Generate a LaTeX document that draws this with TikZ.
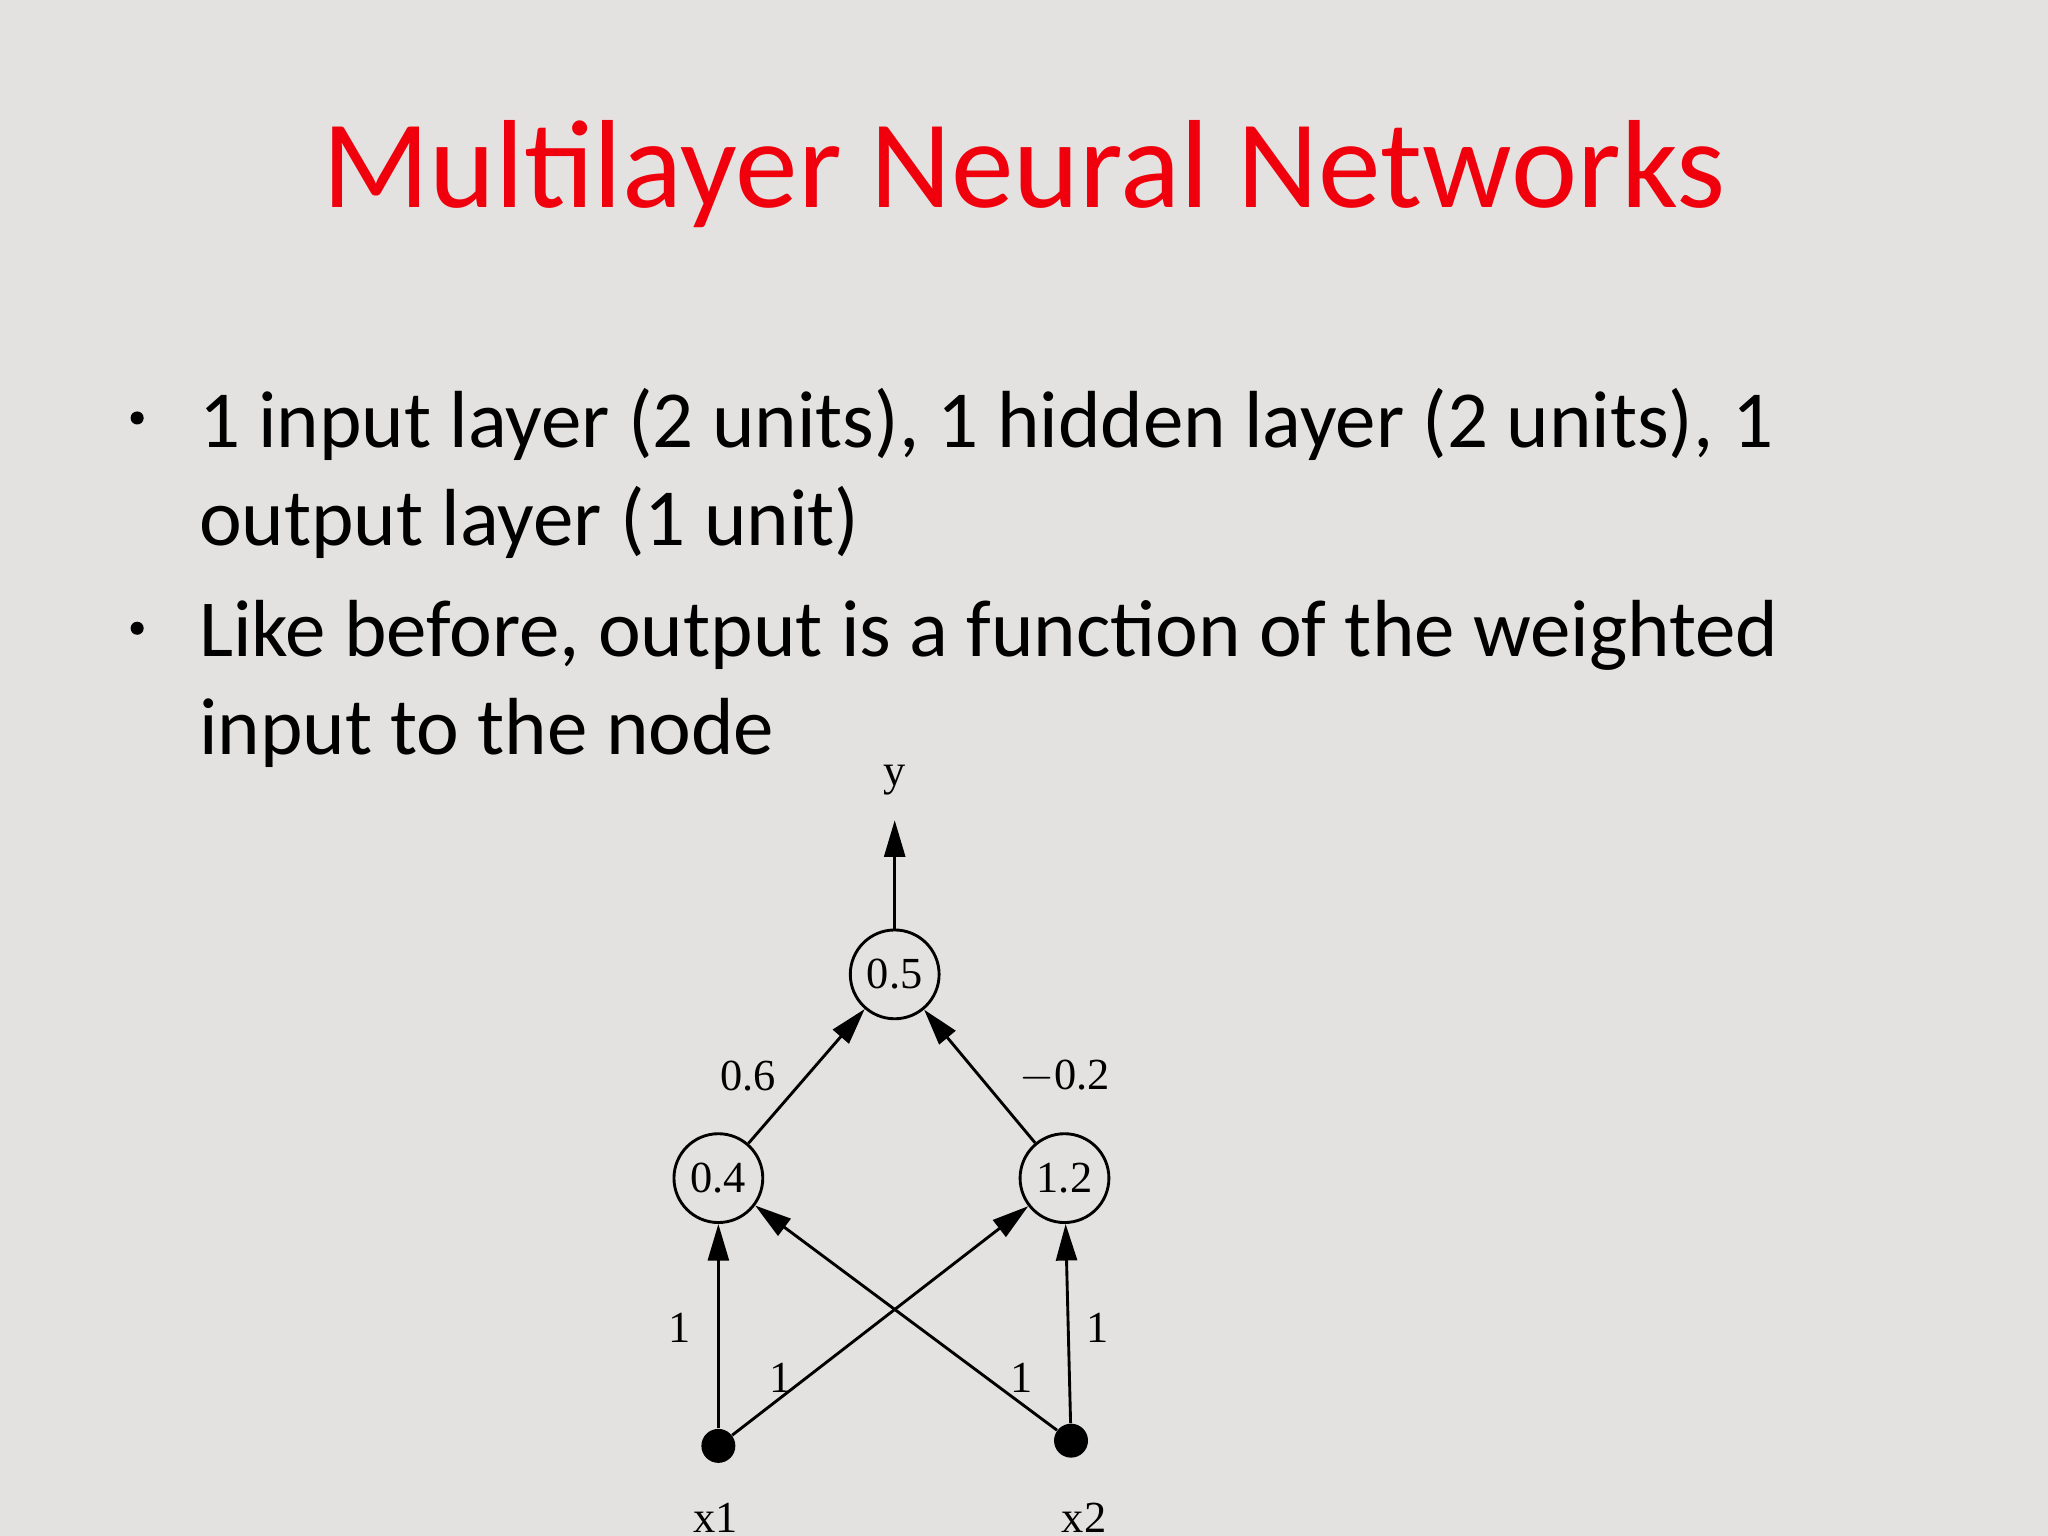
\documentclass[tikz,border=0pt]{standalone}
\usepackage{fontspec}
\setmainfont{Carlito}
\newfontfamily\diagfont{Liberation Serif}
\usetikzlibrary{arrows.meta}
\definecolor{bg}{HTML}{E4E2E0}
\definecolor{titlered}{HTML}{F0000C}
\begin{document}
\begin{tikzpicture}[x=0.5pt,y=-0.5pt,
  unit/.style={circle,draw,line width=1.1pt,minimum size=34pt,inner sep=0pt,font=\diagfont\fontsize{17}{17}\selectfont},
  dot/.style={circle,fill=black,minimum size=13pt,inner sep=0pt},
  lbl/.style={font=\diagfont\fontsize{17}{17}\selectfont,inner sep=0pt},
  conn/.style={line width=1.1pt,-{Triangle[length=14pt,width=8pt]}},
  body/.style={font=\fontsize{31}{37}\selectfont,anchor=base west,inner sep=0pt},
  bul/.style={circle,fill=black,minimum size=5pt,inner sep=0pt}]
\fill[bg] (0,0) rectangle (1568,1176);
\useasboundingbox (0,0) rectangle (1568,1176);
\node[text=titlered,font=\fontsize{48}{58}\selectfont,inner sep=0pt] (title) at (784,133) {Multilayer Neural Networks};
\node[bul] (b1) at (105,320) {};
\node[body] (t1) at (152,343) {1 input layer (2 units), 1 hidden layer (2 units), 1};
\node[body] (t1b) at (152,418) {output layer (1 unit)};
\node[bul] (b2) at (105,481) {};
\node[body] (t2) at (152,503) {Like before, output is a function of the weighted};
\node[body] (t2b) at (152,578) {input to the node};
\node[unit] (o) at (685,746) {0.5};
\node[unit] (h1) at (550,902) {0.4};
\node[unit] (h2) at (815,902) {1.2};
\node[dot] (x1) at (550,1107) {};
\node[dot] (x2) at (820,1103) {};
\coordinate (ytop) at (685,628);
\node[lbl] (y) at (685,597) {y};
\node[lbl] (lx1) at (548,1162) {x1};
\node[lbl] (lx2) at (830,1162) {x2};
\draw[conn] (o) -- (ytop);
\draw[conn] (h1) -- (o);
\draw[conn] (h2) -- (o);
\draw[conn] (x1) -- (h1);
\draw[conn] (x2) -- (h2);
\draw[conn] (x1) -- (h2);
\draw[conn] (x2) -- (h1);
\node[lbl] at (573,824) {0.6};
\node[lbl] at (815,824) {$-$0.2};
\node[lbl] at (520,1017) {1};
\node[lbl] at (840,1017) {1};
\node[lbl] at (598,1055) {1};
\node[lbl] at (782,1055) {1};
\end{tikzpicture}
\end{document}
